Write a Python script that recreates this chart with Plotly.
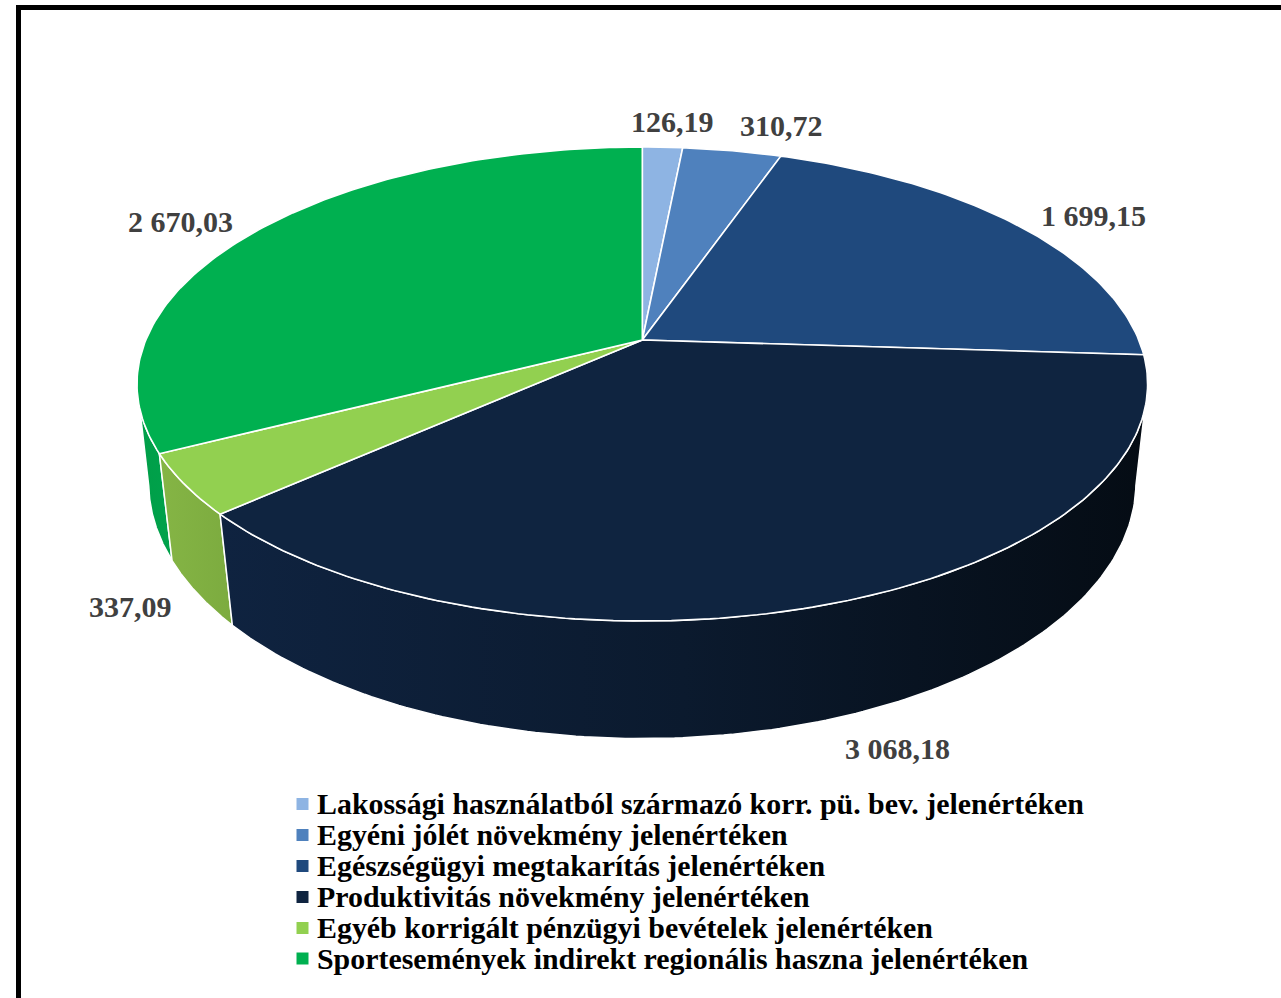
import math
import numpy as np
import plotly.graph_objects as go

categories = [
    "Lakossági használatból származó korr. pü. bev. jelenértéken",
    "Egyéni jólét növekmény jelenértéken",
    "Egészségügyi megtakarítás jelenértéken",
    "Produktivitás növekmény jelenértéken",
    "Egyéb korrigált pénzügyi bevételek jelenértéken",
    "Sportesemények indirekt regionális haszna jelenértéken",
]
values = [126.19, 310.72, 1699.15, 3068.18, 337.09, 2670.03]
top_colors = ["#8EB4E3", "#4F81BD", "#1F497D", "#0F2440", "#92D050", "#00B050"]
side_gradients = {
    3: ["#0F2340", "#0B1A2E", "#050C14"],
    4: ["#85B545", "#7CAB3F"],
    5: ["#009E48", "#00A24B"],
}
label_pos = [(672, 121), (781, 125), (1093, 215), (897, 748), (130, 606), (180, 221)]
legend_y = [803.5, 834.5, 865.5, 896.5, 927.5, 958]

W, H = 1281, 998
TOP = dict(cx=642.3, cy=340, a=496.5, b=228.8, k=0.1857)
BOT = dict(cx=642.3, cy=438, a=486, b=248, k=0.175)
FONT = "Liberation Serif"


def project(theta, p):
    x, y = np.sin(theta), np.cos(theta)
    d = 1 + p["k"] * y
    return p["cx"] + p["a"] * x / d, p["cy"] - p["b"] * y / d


def fmt(v):
    return f"{v:,.2f}".replace(",", " ").replace(".", ",")


total = sum(values)
edges = np.concatenate([[0], np.cumsum(values)]) / total * 2 * math.pi
t_right = math.acos(-TOP["k"])
t_left = 2 * math.pi - t_right

fig = go.Figure()

# outer side walls, back to front
for i in [5, 4, 3]:
    t0 = max(edges[i], t_right)
    t1 = min(edges[i + 1], t_left)
    th = np.linspace(t0, t1, 160)
    xt, yt = project(th, TOP)
    xb, yb = project(th[::-1], BOT)
    stops = side_gradients[i]
    scale = [[j / (len(stops) - 1), c] for j, c in enumerate(stops)]
    fig.add_trace(go.Scatter(
        x=np.r_[xt, xb, xt[:1]], y=np.r_[yt, yb, yt[:1]],
        mode="lines", fill="toself",
        fillgradient=dict(type="horizontal", colorscale=scale),
        line=dict(color="white", width=1.5),
        hoverinfo="skip", showlegend=False,
    ))

# top faces
for i, c in enumerate(top_colors):
    th = np.linspace(edges[i], edges[i + 1], max(8, int(400 * values[i] / total)))
    xa, ya = project(th, TOP)
    cx, cy = TOP["cx"], TOP["cy"]
    fig.add_trace(go.Scatter(
        x=np.r_[cx, xa, cx], y=np.r_[cy, ya, cy],
        mode="lines", fill="toself", fillcolor=c,
        line=dict(color="white", width=1.6),
        name=categories[i], hoverinfo="name", showlegend=False,
    ))

# legend swatches
fig.add_trace(go.Scatter(
    x=[302.5] * len(categories), y=[804, 835, 866, 897, 928, 958.5], mode="markers",
    marker=dict(symbol="square", size=12, color=top_colors, line=dict(width=0)),
    hoverinfo="skip", showlegend=False,
))

annotations = []
for (lx, ly), v in zip(label_pos, values):
    annotations.append(dict(x=lx, y=ly, text=f"<b>{fmt(v)}</b>", showarrow=False,
                            xanchor="center", yanchor="middle",
                            font=dict(family=FONT, size=30, color="#404040")))
for name, ly in zip(categories, legend_y):
    annotations.append(dict(x=315, y=ly, text=f"<b>{name}</b>", showarrow=False,
                            xanchor="left", yanchor="middle",
                            font=dict(family=FONT, size=29.9, color="#000000")))

frame = dict(type="path", path=f"M 18.5 {H} L 18.5 7.5 L {W} 7.5",
             line=dict(color="black", width=5))

fig.update_layout(
    width=W, height=H, margin=dict(l=0, r=0, t=0, b=0),
    paper_bgcolor="white", plot_bgcolor="white", showlegend=False,
    xaxis=dict(range=[0, W], visible=False, fixedrange=True),
    yaxis=dict(range=[H, 0], visible=False, fixedrange=True),
    annotations=annotations, shapes=[frame],
)
fig.write_html("out.html", config={"displayModeBar": False},
               post_script="document.body.style.margin='0';document.body.style.overflow='hidden';")
